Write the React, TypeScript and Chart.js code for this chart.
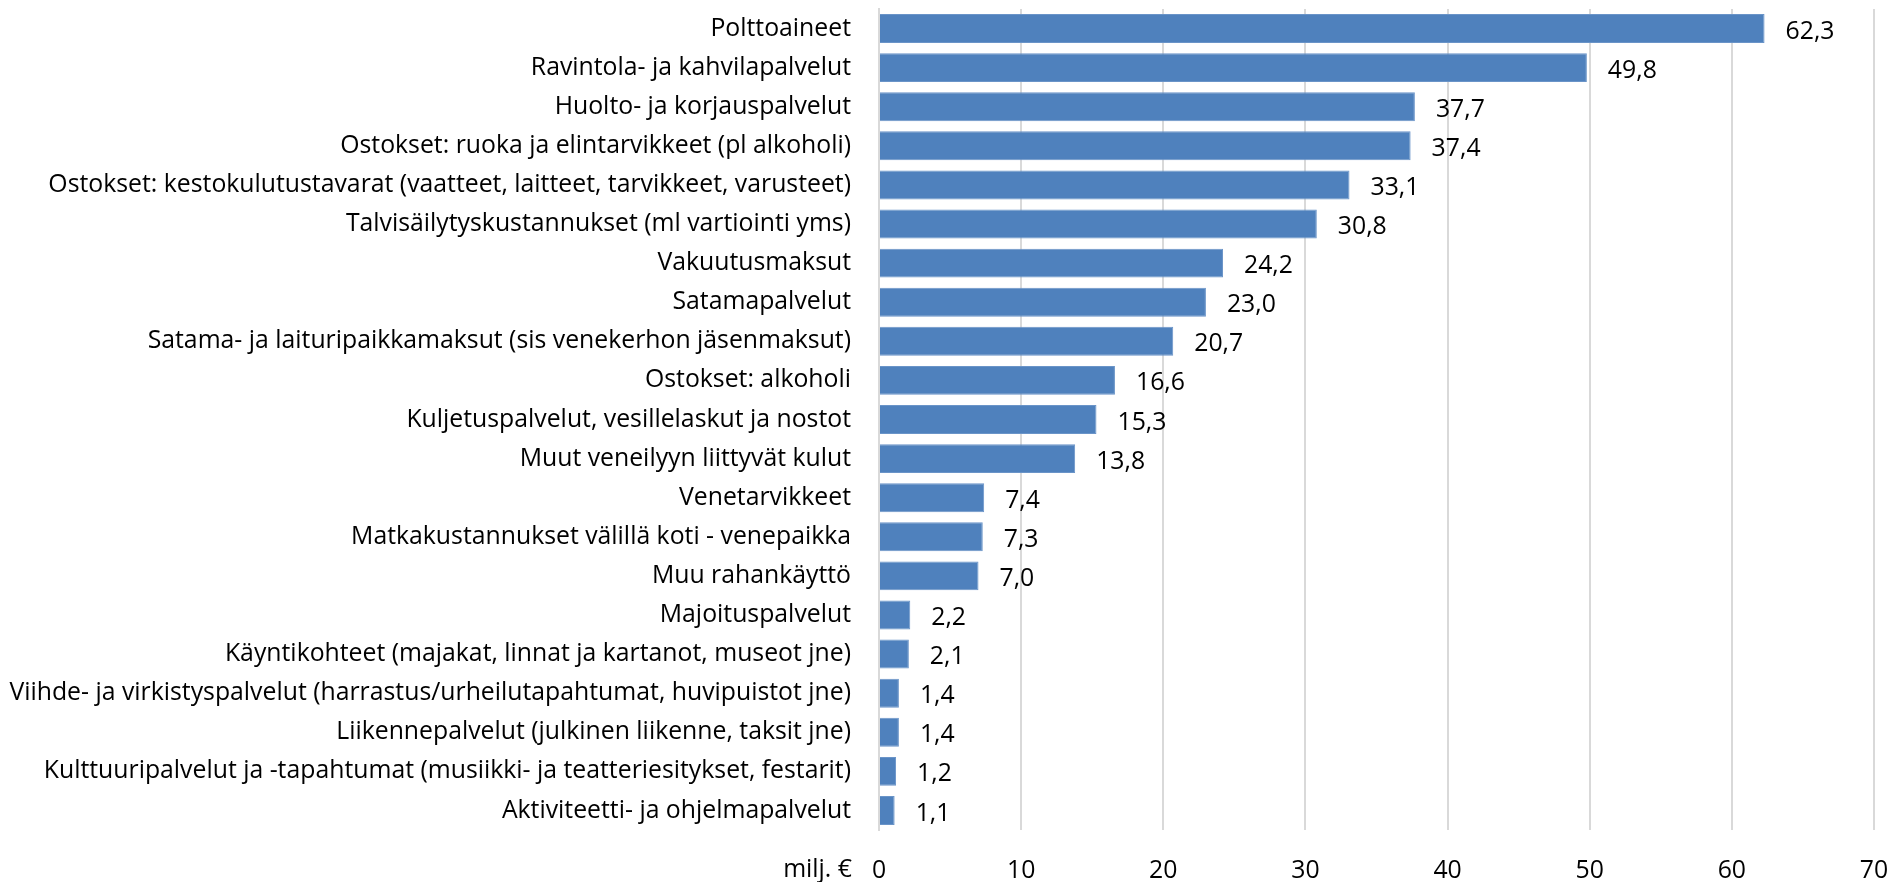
import React, { useEffect, useRef } from "react";
import { Chart, registerables } from "chart.js";

Chart.register(...registerables);

const categories: string[] = [
  "Polttoaineet",
  "Ravintola- ja kahvilapalvelut",
  "Huolto- ja korjauspalvelut",
  "Ostokset: ruoka ja elintarvikkeet (pl alkoholi)",
  "Ostokset: kestokulutustavarat (vaatteet, laitteet, tarvikkeet, varusteet)",
  "Talvisäilytyskustannukset (ml vartiointi yms)",
  "Vakuutusmaksut",
  "Satamapalvelut",
  "Satama- ja laituripaikkamaksut (sis venekerhon jäsenmaksut)",
  "Ostokset: alkoholi",
  "Kuljetuspalvelut, vesillelaskut ja nostot",
  "Muut veneilyyn liittyvät kulut",
  "Venetarvikkeet",
  "Matkakustannukset välillä koti - venepaikka",
  "Muu rahankäyttö",
  "Majoituspalvelut",
  "Käyntikohteet (majakat, linnat ja kartanot, museot jne)",
  "Viihde- ja virkistyspalvelut (harrastus/urheilutapahtumat, huvipuistot jne)",
  "Liikennepalvelut (julkinen liikenne, taksit jne)",
  "Kulttuuripalvelut ja -tapahtumat (musiikki- ja teatteriesitykset, festarit)",
  "Aktiviteetti- ja ohjelmapalvelut",
];

const values: number[] = [
  62.3, 49.8, 37.7, 37.4, 33.1, 30.8, 24.2, 23.0, 20.7, 16.6, 15.3, 13.8, 7.4,
  7.3, 7.0, 2.2, 2.1, 1.4, 1.4, 1.2, 1.1,
];

const xMin = 0;
const xMax = 70;
const xStep = 10;
const unitLabel = "milj. €";

const FONT = '"Open Sans", sans-serif';
const FSIZE = 24.8;

const fmt = (v: number) => v.toFixed(1).replace(".", ",");

const labelPlugin = {
  id: "valueLabels",
  afterDatasetsDraw(chart: any) {
    const ctx = chart.ctx;
    const meta = chart.getDatasetMeta(0);
    ctx.save();
    ctx.font = `${FSIZE}px ${FONT}`;
    ctx.fillStyle = "#000";
    ctx.textAlign = "left";
    ctx.textBaseline = "middle";
    meta.data.forEach((bar: any, i: number) => {
      ctx.fillText(fmt(values[i]), bar.x + 21, bar.y + 3);
    });
    const xs = chart.scales.x;
    ctx.textAlign = "right";
    ctx.fillText(unitLabel, xs.left - 27, 870);
    ctx.restore();
  },
};

const zeroPad = (s: any) => {
  s.paddingTop = 0;
  s.paddingBottom = 0;
  s.paddingLeft = 0;
  s.paddingRight = 0;
};

export default function App() {
  const ref = useRef<HTMLCanvasElement | null>(null);
  useEffect(() => {
    if (!ref.current) return;
    const chart = new Chart(ref.current, {
      type: "bar",
      data: {
        labels: categories,
        datasets: [
          {
            data: values,
            backgroundColor: "#4F81BD",
            borderColor: "#6A94C8",
            borderWidth: 1,
            categoryPercentage: 1,
            barPercentage: 0.74,
          },
        ],
      },
      options: {
        indexAxis: "y",
        animation: false,
        responsive: false,
        maintainAspectRatio: false,
        layout: { padding: { top: 9, right: 16, left: 0, bottom: 0 } },
        plugins: {
          legend: { display: false },
          tooltip: { enabled: false },
        },
        scales: {
          x: {
            min: xMin,
            max: xMax,
            ticks: {
              stepSize: xStep,
              color: "#000",
              font: { family: FONT, size: FSIZE },
              padding: 26,
              maxRotation: 0,
            },
            grid: { color: "#D9D9D9", lineWidth: 2, drawTicks: false },
            border: { display: false },
            afterFit: (s: any) => {
              s.height = 52;
              zeroPad(s);
            },
          },
          y: {
            ticks: {
              color: "#000",
              font: { family: FONT, size: FSIZE },
              padding: 28,
              autoSkip: false,
            },
            grid: { display: false, drawTicks: false },
            border: { display: true, color: "#D9D9D9", width: 2 },
            afterFit: (s: any) => {
              s.width = 879;
              zeroPad(s);
            },
          },
        },
      },
      plugins: [labelPlugin],
    });
    return () => chart.destroy();
  }, []);
  return (
    <div style={{ position: "fixed", left: 0, top: 0, width: 1890, height: 882, background: "#fff" }}>
      <canvas ref={ref} width={1890} height={882} style={{ display: "block" }} />
    </div>
  );
}
